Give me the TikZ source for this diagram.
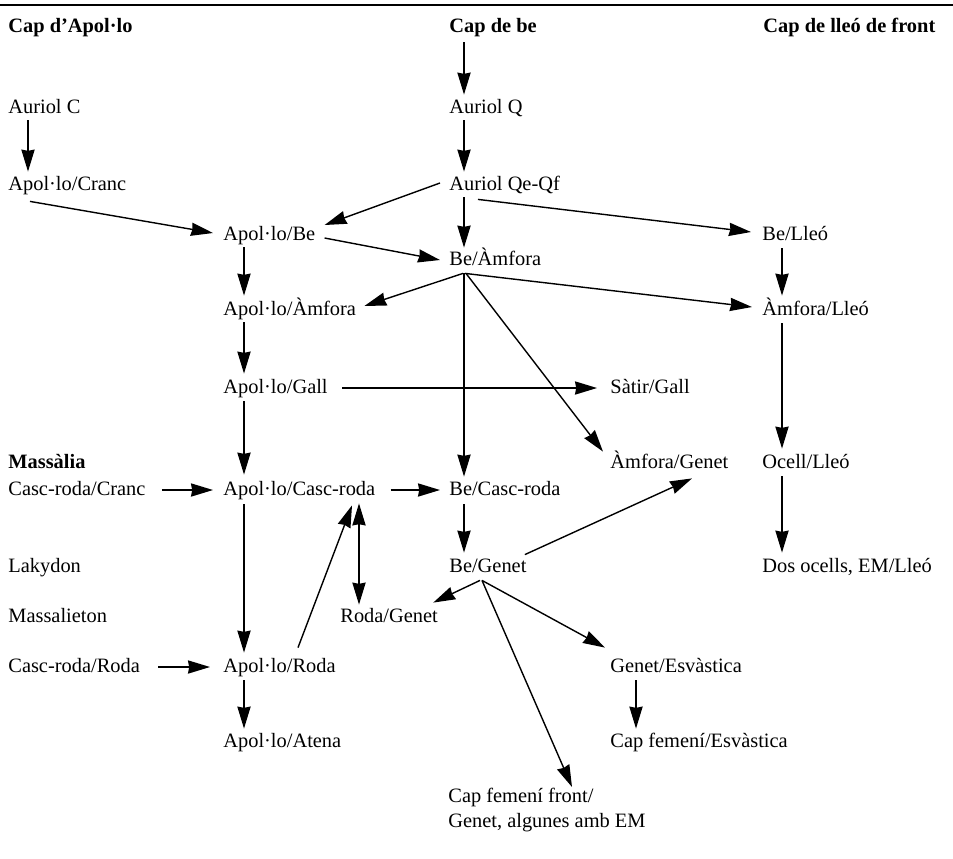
\documentclass[tikz,border=0pt]{standalone}
\usepackage{fontspec}
\setmainfont{Liberation Serif}
\usetikzlibrary{arrows.meta}

\begin{document}
\begin{tikzpicture}[x=0.5pt,y=-0.5pt,
		lbl/.style={anchor=west,inner sep=0pt,text height=7pt,text depth=2pt,font=\fontsize{10.2}{12.5}\selectfont},
		hdr/.style={lbl,font=\fontsize{10.2}{12.5}\selectfont\bfseries},
		arr/.style={-{Stealth[length=11pt,width=6.6pt,inset=0.6pt]},line width=0.7pt},
		darr/.style={{Stealth[length=11pt,width=6.6pt,inset=0.6pt]}-{Stealth[length=11pt,width=6.6pt,inset=0.6pt]},line width=0.7pt}]
		\useasboundingbox (0,0) rectangle (953,858);
		\draw[line width=1pt] (0,5) -- (953,5);
		% column heads
		\node[hdr] (hapo) at (8,27) {Cap d’Apol·lo};
		\node[hdr] (hbe) at (449,27) {Cap de be};
		\node[hdr] (hlle) at (763,27) {Cap de lleó de front};
		% Apol·lo column
		\node[lbl] (ac) at (8,108) {Auriol C};
		\node[lbl] (apc) at (8,185) {Apol·lo/Cranc};
		\node[lbl] (apb) at (223,235) {Apol·lo/Be};
		\node[lbl] (apa) at (223,310) {Apol·lo/Àmfora};
		\node[lbl] (apg) at (223,388) {Apol·lo/Gall};
		\node[lbl] (apcr) at (223,490) {Apol·lo/Casc-roda};
		\node[lbl] (apr) at (223,667) {Apol·lo/Roda};
		\node[lbl] (apat) at (223,742) {Apol·lo/Atena};
		% Massàlia
		\node[hdr] (mas) at (8,463) {Massàlia};
		\node[lbl] (cc) at (8,490) {Casc-roda/Cranc};
		\node[lbl] (lak) at (8,567) {Lakydon};
		\node[lbl] (msl) at (8,617) {Massalieton};
		\node[lbl] (crr) at (8,667) {Casc-roda/Roda};
		% be column
		\node[lbl] (aq) at (449,108) {Auriol Q};
		\node[lbl] (aqf) at (449,185) {Auriol Qe-Qf};
		\node[lbl] (bea) at (449,260) {Be/Àmfora};
		\node[lbl] (bcr) at (449,490) {Be/Casc-roda};
		\node[lbl] (bg) at (449,567) {Be/Genet};
		\node[lbl] (rg) at (340,617) {Roda/Genet};
		\node[lbl] (sg) at (610,388) {Sàtir/Gall};
		\node[lbl] (amg) at (610,463) {Àmfora/Genet};
		\node[lbl] (ge) at (610,667) {Genet/Esvàstica};
		\node[lbl] (cfe) at (610,742) {Cap femení/Esvàstica};
		\node[anchor=north west,inner sep=0pt,align=left,font=\fontsize{10.2}{12.5}\selectfont] (cff) at (448,788) {Cap femení front/\\Genet, algunes amb EM};
		% lleó column
		\node[lbl] (bel) at (762,235) {Be/Lleó};
		\node[lbl] (aml) at (762,310) {Àmfora/Lleó};
		\node[lbl] (ocl) at (762,463) {Ocell/Lleó};
		\node[lbl] (dos) at (762,567) {Dos ocells, EM/Lleó};

		% vertical links
		\draw[arr] ([shift={(15,6)}]hbe.south west) -- ([shift={(15,-4)}]aq.north west);
		\draw[arr] ([shift={(20,3)}]ac.south west) -- ([shift={(20,-4)}]apc.north west);
		\draw[arr] ([shift={(15,3)}]aq.south west) -- ([shift={(15,-4)}]aqf.north west);
		\draw[arr] ([shift={(15,3)}]aqf.south west) -- ([shift={(15,-3)}]bea.north west);
		\draw[arr] ([shift={(21,3)}]apb.south west) -- ([shift={(21,-5)}]apa.north west);
		\draw[arr] ([shift={(21,3)}]apa.south west) -- ([shift={(21,-5)}]apg.north west);
		\draw[arr] ([shift={(21,4)}]apg.south west) -- ([shift={(21,-6)}]apcr.north west);
		\draw[arr] ([shift={(21,5)}]apcr.south west) -- ([shift={(21,-5)}]apr.north west);
		\draw[arr] ([shift={(21,4)}]apr.south west) -- ([shift={(21,-4)}]apat.north west);
		\draw[arr] ([shift={(20,4)}]bel.south west) -- ([shift={(20,-5)}]aml.north west);
		\draw[arr] ([shift={(20,4)}]aml.south west) -- ([shift={(20,-5)}]ocl.north west);
		\draw[arr] ([shift={(20,4)}]ocl.south west) -- ([shift={(20,-5)}]dos.north west);
		\draw[arr] ([shift={(15,4)}]bea.south west) -- ([shift={(15,-4)}]bcr.north west);
		\draw[arr] ([shift={(15,5)}]bcr.south west) -- ([shift={(15,-5)}]bg.north west);
		\draw[arr] ([shift={(26,4)}]ge.south west) -- ([shift={(26,-4)}]cfe.north west);
		% horizontal links
		\draw[arr] ([xshift=8pt]cc.east) -- ([xshift=-5pt]apcr.west);
		\draw[arr] ([xshift=7.5pt]apcr.east) -- ([xshift=-4.5pt]bcr.west);
		\draw[arr] ([xshift=9pt]crr.east) -- ([xshift=-6.5pt]apr.west);
		\draw[arr] ([xshift=7pt]apg.east) -- ([xshift=-6.5pt]sg.west);
		% slanted links
		\draw[arr] ([shift={(22,7)}]apc.south west) -- ([shift={(-10,-2)}]apb.west);
		\draw[arr] ([shift={(-9,-2)}]aqf.west) -- ([shift={(9,-10)}]apb.east);
		\draw[arr] ([shift={(9,3)}]apb.east) -- ([shift={(-9,0)}]bea.west);
		\draw[arr] ([shift={(29,5)}]aqf.south west) -- ([shift={(-11,-3)}]bel.west);
		\draw[arr] ([shift={(14,4)}]bea.south west) -- ([shift={(8,-4)}]apa.east);
		\draw[arr] ([shift={(16,4)}]bea.south west) -- ([shift={(-10,-3)}]aml.west);
		\draw[arr] ([shift={(17,4)}]bea.south west) -- ([shift={(-7,-2)}]amg.north west);
		\draw[arr] ([shift={(-2,-3)}]bg.north east) -- ([shift={(82,6)}]amg.south west);
		\draw[arr] ([shift={(31,4)}]bg.south west) -- ([shift={(-5,-5)}]rg.north east);
		\draw[arr] ([shift={(33,4)}]bg.south west) -- ([shift={(-5,-10)}]ge.north west);
		\draw[arr] ([shift={(33,4)}]bg.south west) -- ([shift={(124,-1)}]cff.north west);
		\draw[arr] ([shift={(75,-10)}]apr.north west) -- ([shift={(129,6)}]apcr.south west);
		\draw[darr] ([shift={(136,4)}]apcr.south west) -- ([shift={(19,-3)}]rg.north west);
	\end{tikzpicture}
\end{document}
